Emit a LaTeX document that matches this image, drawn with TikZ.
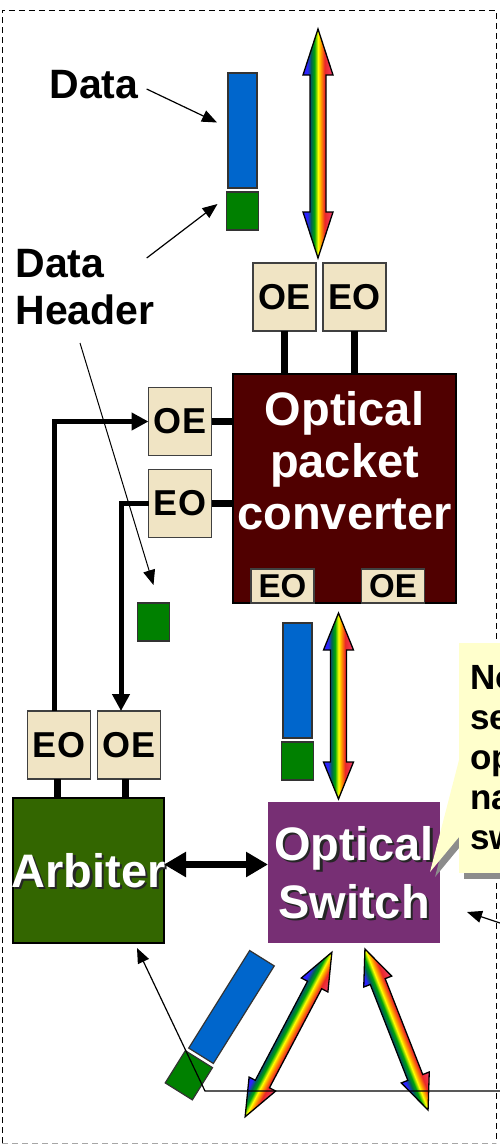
\documentclass[tikz,border=0pt]{standalone}
\usepackage{fontspec}
\setmainfont{Liberation Sans}
\usetikzlibrary{positioning}
\usetikzlibrary{arrows.meta}

\definecolor{oebeige}{RGB}{240,228,196}
\definecolor{pktblue}{RGB}{0,102,204}
\definecolor{pktgreen}{RGB}{0,128,0}
\definecolor{convred}{RGB}{80,0,0}
\definecolor{arbgreen}{RGB}{51,102,0}
\definecolor{swpurple}{RGB}{119,47,116}
\definecolor{noteyellow}{RGB}{255,255,204}
\definecolor{rbblue}{RGB}{45,35,255}
\definecolor{rbteal}{RGB}{0,100,80}
\definecolor{rbgreen}{RGB}{0,165,10}
\definecolor{rborange}{RGB}{255,150,0}
\definecolor{rbred}{RGB}{235,40,40}
\definecolor{rbpink}{RGB}{240,70,130}

\pgfdeclarehorizontalshading{rainbow}{100bp}{color(0bp)=(rbblue); color(25bp)=(rbblue); color(32bp)=(rbblue); color(38.5bp)=(rbteal); color(44bp)=(rbgreen); color(50bp)=(yellow); color(55bp)=(rborange); color(61bp)=(rbred); color(68bp)=(rbred!60!rbpink); color(75bp)=(rbpink); color(100bp)=(rbpink)}

\newcommand{\rainbowarrow}[4]{%
  \begin{scope}[transform canvas={shift={#1}, rotate=#2}]
    \shade[shading=rainbow, draw=black, line width=1.3pt]
      (0,-#3) -- (15,{-#3+#4}) -- (8,{-#3+#4}) -- (8,{#3-#4}) -- (15,{#3-#4})
      -- (0,#3) -- (-15,{#3-#4}) -- (-8,{#3-#4}) -- (-8,{-#3+#4}) -- (-15,{-#3+#4}) -- cycle;
  \end{scope}}

\tikzset{
  oebox/.style={draw=black!75, line width=1.2pt, fill=oebeige, minimum width=63pt, minimum height=68pt,
    inner sep=0pt, outer sep=0pt, font=\fontsize{36}{40}\selectfont\bfseries},
  smallbox/.style={oebox, minimum height=34pt, font=\fontsize{33}{36}\selectfont\bfseries},
  databar/.style={draw=black!80, line width=1.2pt, fill=pktblue, minimum width=29pt, minimum height=115pt,
    inner sep=0pt, outer sep=0pt},
  hdrbox/.style={databar, fill=pktgreen, minimum width=32pt, minimum height=38pt},
  bigbox/.style={draw=black, line width=1.5pt, inner sep=0pt, outer sep=0pt},
  boxtext/.style={text=white, align=center, inner sep=0pt, font=\fontsize{47}{52}\selectfont\bfseries},
  shadowtext/.style={boxtext, text=black!85},
  lbl/.style={inner sep=0pt, font=\fontsize{41}{47}\selectfont\bfseries},
  notetext/.style={inner sep=0pt, align=left, font=\fontsize{35}{40}\selectfont\bfseries},
  stubline/.style={line width=7pt},
  loopline/.style={line width=5pt, -{Triangle[length=17pt,width=17pt]}},
  bigdouble/.style={line width=7pt, {Triangle[length=22pt,width=24pt]}-{Triangle[length=22pt,width=24pt]}},
  pointer/.style={line width=1.2pt, -{Triangle[length=15pt,width=12pt]}}
}

\begin{document}
\begin{tikzpicture}[x=1pt, y=-1pt, node distance=7pt]
  \useasboundingbox (0,0) rectangle (500,1144);
  \draw[line width=1pt, dash pattern=on 6pt off 4pt] (2,1143) -- (2,10) -- (496,10) -- (496,1143);
  \draw[line width=1pt, black!35, dash pattern=on 6pt off 4pt] (2,1143) -- (496,1143);

  \node[databar] (dataBar) at (242.5,130.5) {};
  \node[hdrbox, below=4pt of dataBar] (hdrBox) {};
  \node[lbl] (dataLbl) at (94,85) {Data};
  \node[lbl, align=left] (hdrLbl) at (85,287) {Data\\Header};
  \draw[pointer] ([shift={(8,4)}]dataLbl.east) -- ([shift={(-11,-8)}]dataBar.west);
  \draw[pointer] ([shift={(-8,9)}]hdrLbl.north east) -- ([shift={(-9,-7)}]hdrBox.west);

  \rainbowarrow{(318,143.5)}{0}{114.5}{46}

  \node[oebox] (oeTop) at (284.5,297) {OE};
  \node[oebox, right=of oeTop] (eoTop) {EO};
  \node[bigbox, fill=convred, minimum width=223pt, minimum height=229pt] (conv) at (344.5,488.5) {};
  \node[boxtext] (convText) at (344.5,460.5) {Optical\\packet\\converter};
  \node[smallbox] (eoIn) at (282.5,586) {EO};
  \node[smallbox] (oeIn) at (393,586) {OE};
  \draw[stubline] (oeTop.south) -- (oeTop.south |- conv.north);
  \draw[stubline] (eoTop.south) -- (eoTop.south |- conv.north);

  \node[oebox] (oeLeft) at (180,421.5) {OE};
  \node[oebox, below=14pt of oeLeft] (eoLeft) {EO};
  \draw[stubline] (oeLeft.east) -- (oeLeft.east -| conv.west);
  \draw[stubline] (eoLeft.east) -- (eoLeft.east -| conv.west);
  \node[hdrbox] (hdrSmall) at (153.5,622) {};

  \node[oebox] (eoArb) at (59,745) {EO};
  \node[oebox, right=of eoArb] (oeArb) {OE};
  \node[bigbox, fill=arbgreen, minimum width=151pt, minimum height=145pt] (arbiter) at (88.5,870.5) {};
  \node[shadowtext] (arbShadow) at ([shift={(2.5,2.5)}]arbiter) {Arbiter};
  \node[boxtext] (arbText) at (arbiter) {Arbiter};
  \draw[stubline] ([xshift=-2pt]eoArb.south) -- ([xshift=-2pt]eoArb.south |- arbiter.north);
  \draw[stubline] ([xshift=-4pt]oeArb.south) -- ([xshift=-4pt]oeArb.south |- arbiter.north);

  \draw[loopline] ([xshift=-5pt]eoArb.north) |- (oeLeft.west);
  \draw[loopline] (eoLeft.west) -| ([xshift=-8pt]oeArb.north);
  \draw[pointer, line width=1pt] ([shift={(-5,18)}]hdrLbl.south) -- ([yshift=18pt]hdrSmall.north);

  \node[fill=swpurple, inner sep=0pt, outer sep=0pt, minimum width=172pt, minimum height=141pt] (switch) at (354,872.5) {};
  \node[shadowtext, font=\fontsize{47}{58}\selectfont\bfseries] (swShadow) at ([shift={(2.5,2.5)}]switch) {Optical\\Switch};
  \node[boxtext, font=\fontsize{47}{58}\selectfont\bfseries] (swText) at (switch) {Optical\\Switch};
  \draw[bigdouble] ([yshift=6pt]arbiter.east) -- ([yshift=6pt]arbiter.east -| switch.west);

  \rainbowarrow{(338.5,706)}{0}{93}{37}
  \node[databar] (dataMid) at (297.5,680.5) {};
  \node[hdrbox, below=4pt of dataMid] (hdrMid) {};

  \begin{scope}[shift={(231.5,1007)}, rotate=-32, transform shape]
    \node[databar] (dataLow) at (0,0) {};
    \node[hdrbox] (hdrLow) at (0,80.5) {};
  \end{scope}
  \rainbowarrow{(288.5,1034.5)}{-27.8}{93}{37}
  \rainbowarrow{(396.5,1029.5)}{21.4}{86.5}{35}

  \fill[black!45] (464,649) rectangle (566,879);
  \fill[black!45] (464,765) -- (435,877) -- (464,842) -- cycle;
  \fill[noteyellow] (459,643) rectangle (560,873);
  \fill[noteyellow] (459,760) -- (430,872) -- (459,837) -- cycle;
  \node[notetext, anchor=north west] (note) at (470,665) {No\\se\\op\\na\\sw};

  \coordinate (edgeLow) at (500,1091);
  \coordinate (bend) at (205,1091);
  \draw[pointer] (edgeLow) -- (bend) -- ([shift={(48.5,5)}]arbiter.south);
  \coordinate (edgeMid) at (500,923);
  \draw[pointer] (edgeMid) -- ([shift={(27,39.5)}]switch.east);
\end{tikzpicture}
\end{document}
